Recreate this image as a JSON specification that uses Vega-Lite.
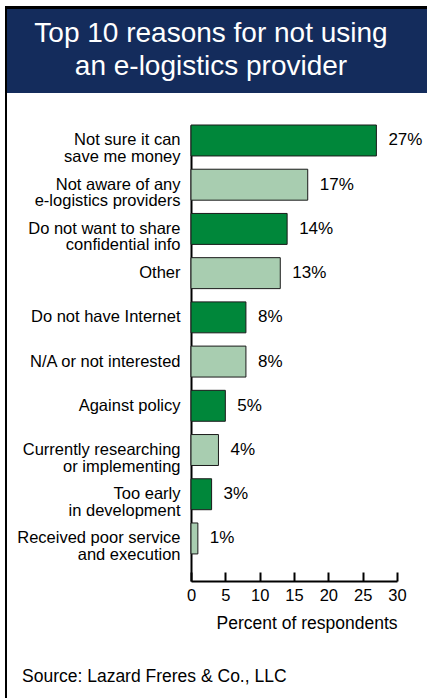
{
  "$schema": "https://vega.github.io/schema/vega-lite/v6.json",
  "padding": {"left": 5, "top": 6, "right": 0, "bottom": 0},
  "background": "white",
  "config": {"font": "Liberation Sans", "view": {"stroke": null}},
  "spacing": 0,
  "bounds": "full",
  "hconcat": [
    {
      "width": 2,
      "height": 692,
      "view": {"fill": "black", "stroke": null},
      "data": {"values": []},
      "mark": {"type": "point", "opacity": 0},
      "encoding": {}
    },
    {
      "spacing": 0,
      "bounds": "full",
      "vconcat": [
        {
          "width": 420,
          "height": 3,
          "view": {"fill": "black", "stroke": null},
          "data": {"values": []},
          "mark": {"type": "point", "opacity": 0},
          "encoding": {}
        },
        {
          "width": 420,
          "height": 84,
          "view": {"fill": "#142C5C", "stroke": null},
          "data": {"values": [{"title": "Top 10 reasons for not using|an e-logistics provider"}]},
          "mark": {"type": "text", "lineBreak": "|", "lineHeight": 33, "fontSize": 28, "fill": "white", "align": "center", "baseline": "alphabetic", "dx": -6, "dy": -9},
          "encoding": {"text": {"field": "title"}}
        },
        {
          "width": 420,
          "height": 31,
          "data": {"values": []},
          "mark": {"type": "point", "opacity": 0},
          "encoding": {}
        },
        {
          "spacing": 183,
          "bounds": "flush",
          "hconcat": [
            {
              "width": 1,
              "height": 456,
              "data": {"values": []},
              "mark": {"type": "point", "opacity": 0},
              "encoding": {}
            },
            {
              "width": 206,
              "height": 456,
              "title": {"text": "Source: Lazard Freres & Co., LLC", "orient": "bottom", "anchor": "start", "frame": "group", "dx": -169, "offset": 36, "fontSize": 17.5, "fontWeight": "normal", "color": "black"},
              "data": {"values": [
                {"rank": 1, "reason": "Not sure it can|save me money", "pct": 27},
                {"rank": 2, "reason": "Not aware of any|e-logistics providers", "pct": 17},
                {"rank": 3, "reason": "Do not want to share|confidential info", "pct": 14},
                {"rank": 4, "reason": "Other", "pct": 13},
                {"rank": 5, "reason": "Do not have Internet", "pct": 8},
                {"rank": 6, "reason": "N/A or not interested", "pct": 8},
                {"rank": 7, "reason": "Against policy", "pct": 5},
                {"rank": 8, "reason": "Currently researching|or implementing", "pct": 4},
                {"rank": 9, "reason": "Too early|in development", "pct": 3},
                {"rank": 10, "reason": "Received poor service|and execution", "pct": 1}
              ]},
              "encoding": {
                "y": {
                  "field": "reason", "type": "nominal", "sort": null,
                  "scale": {"paddingInner": 0.3, "paddingOuter": 0.306, "align": 0},
                  "axis": {"title": null, "domainColor": "black", "domainWidth": 2, "ticks": false, "labelExpr": "split(datum.label, '|')", "labelFontSize": 16.5, "labelLineHeight": 16.5, "labelPadding": 11, "labelColor": "black", "labelLimit": 300, "labelBaseline": "middle"}
                },
                "x": {
                  "field": "pct", "type": "quantitative",
                  "scale": {"domain": [0, 30], "nice": false},
                  "axis": {"values": [0, 5, 10, 15, 20, 25, 30], "grid": false, "domainColor": "black", "domainWidth": 2, "tickColor": "black", "tickWidth": 2, "tickSize": -9, "labelPadding": 15, "labelFontSize": 16.5, "labelColor": "black", "labelFlush": false, "title": "Percent of respondents", "titleFontSize": 17.5, "titleFontWeight": "normal", "titleColor": "black", "titleAnchor": "end", "titlePadding": 11}
                }
              },
              "layer": [
                {
                  "mark": {"type": "bar", "stroke": "#1a1a1a", "strokeWidth": 1},
                  "encoding": {
                    "color": {"condition": {"test": "datum.rank % 2 === 1", "value": "#00873A"}, "value": "#A8CDB0"}
                  }
                },
                {
                  "mark": {"type": "text", "align": "left", "baseline": "middle", "dx": 12, "fontSize": 17, "fill": "black", "text": {"expr": "datum.pct + '%'"}}
                }
              ]
            }
          ]
        }
      ]
    }
  ]
}
